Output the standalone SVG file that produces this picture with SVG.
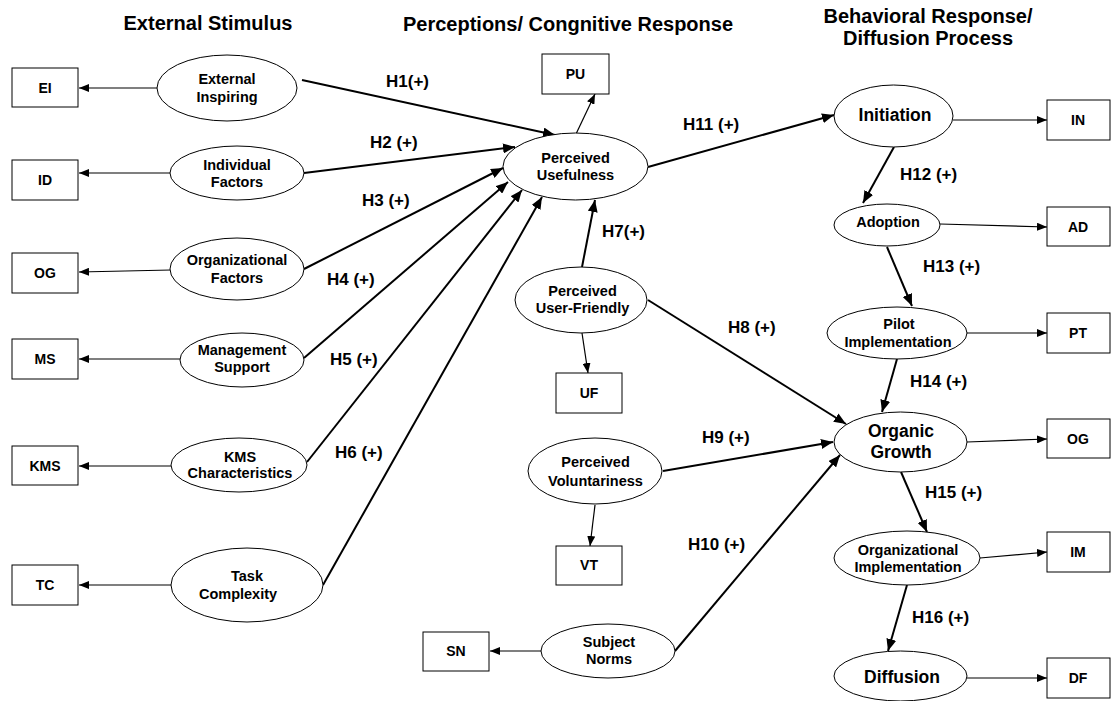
<svg xmlns="http://www.w3.org/2000/svg" width="1111" height="701" viewBox="0 0 1111 701">
<style>
text{font-family:"Liberation Sans",Arial,sans-serif;font-weight:bold;fill:#000}
.title{font-size:20px;text-anchor:middle}
.lbl{font-size:17px}
.et{font-size:14.5px;text-anchor:middle}
.eb{font-size:17.5px;text-anchor:middle}
.bt{font-size:14px;text-anchor:middle}
ellipse{fill:#fff;stroke:#000;stroke-width:1}
rect{fill:#fff;stroke:#000;stroke-width:1}
.thin{stroke:#000;stroke-width:1.2;fill:none;marker-end:url(#sa)}
.thick{stroke:#000;stroke-width:2;fill:none;marker-end:url(#ba)}
</style>
<defs>
<marker id="sa" markerUnits="userSpaceOnUse" markerWidth="10" markerHeight="8" viewBox="0 0 10 8" refX="10" refY="4" orient="auto"><path d="M0,0 L10,4 L0,8 z" fill="#000"/></marker>
<marker id="ba" markerUnits="userSpaceOnUse" markerWidth="12" markerHeight="10" viewBox="0 0 12 10" refX="12" refY="5" orient="auto"><path d="M0,0 L12,5 L0,10 z" fill="#000"/></marker>
</defs>
<rect x="0" y="0" width="1111" height="701" style="fill:#fff;stroke:none"/>

<g id="titles">
<text class="title" x="208" y="30">External Stimulus</text>
<text class="title" x="568" y="31">Perceptions/ Congnitive Response</text>
<text class="title" x="928" y="23">Behavioral Response/</text>
<text class="title" x="928" y="45">Diffusion Process</text>
</g>

<g id="connectors">
<line class="thin" x1="157" y1="88" x2="79" y2="88"/>
<line class="thin" x1="170" y1="173" x2="79" y2="173"/>
<line class="thin" x1="171" y1="270" x2="79" y2="272"/>
<line class="thin" x1="180" y1="359" x2="79" y2="359"/>
<line class="thin" x1="171" y1="466" x2="79" y2="466"/>
<line class="thin" x1="171" y1="585" x2="79" y2="585"/>
<line class="thin" x1="576" y1="134" x2="595" y2="94"/>
<line class="thin" x1="582" y1="333" x2="588" y2="373"/>
<line class="thin" x1="595" y1="505" x2="590" y2="546"/>
<line class="thin" x1="542" y1="651" x2="490" y2="651"/>
<line class="thin" x1="953" y1="120" x2="1047" y2="120"/>
<line class="thin" x1="940" y1="224" x2="1047" y2="227"/>
<line class="thin" x1="967" y1="333" x2="1047" y2="333"/>
<line class="thin" x1="967" y1="442" x2="1047" y2="439"/>
<line class="thin" x1="980" y1="558" x2="1047" y2="552"/>
<line class="thin" x1="967" y1="678" x2="1047" y2="678"/>

<line class="thick" x1="302" y1="80" x2="555" y2="135"/>
<line class="thick" x1="304" y1="173" x2="515" y2="147"/>
<line class="thick" x1="304" y1="269" x2="503" y2="168"/>
<line class="thick" x1="304" y1="358" x2="508" y2="182"/>
<line class="thick" x1="307" y1="462" x2="522" y2="190"/>
<line class="thick" x1="323" y1="585" x2="542" y2="197"/>
<line class="thick" x1="582" y1="267" x2="595" y2="200"/>
<line class="thick" x1="648" y1="300" x2="846" y2="424"/>
<line class="thick" x1="663" y1="471" x2="833" y2="442"/>
<line class="thick" x1="675" y1="651" x2="840" y2="455"/>
<line class="thick" x1="648" y1="167" x2="834" y2="115"/>
<line class="thick" x1="894" y1="147" x2="863" y2="203"/>
<line class="thick" x1="887" y1="247" x2="912" y2="306"/>
<line class="thick" x1="897" y1="359" x2="882" y2="412"/>
<line class="thick" x1="901" y1="472" x2="927" y2="532"/>
<line class="thick" x1="907" y1="585" x2="888" y2="651"/>

<text class="lbl" x="386" y="87">H1(+)</text>
<text class="lbl" x="370" y="148">H2 (+)</text>
<text class="lbl" x="362" y="206">H3 (+)</text>
<text class="lbl" x="327" y="285">H4 (+)</text>
<text class="lbl" x="330" y="365">H5 (+)</text>
<text class="lbl" x="335" y="458">H6 (+)</text>
<text class="lbl" x="602" y="237">H7(+)</text>
<text class="lbl" x="728" y="333">H8 (+)</text>
<text class="lbl" x="702" y="443">H9 (+)</text>
<text class="lbl" x="688" y="550">H10 (+)</text>
<text class="lbl" x="683" y="130">H11 (+)</text>
<text class="lbl" x="900" y="180">H12 (+)</text>
<text class="lbl" x="923" y="272">H13 (+)</text>
<text class="lbl" x="910" y="387">H14 (+)</text>
<text class="lbl" x="925" y="498">H15 (+)</text>
<text class="lbl" x="912" y="623">H16 (+)</text>
</g>

<g id="n-ei"><ellipse cx="227" cy="88" rx="70" ry="33"/><text class="et" x="227" y="84">External</text><text class="et" x="227" y="102">Inspiring</text></g>
<g id="n-if"><ellipse cx="237" cy="173" rx="67" ry="27"/><text class="et" x="237" y="170">Individual</text><text class="et" x="237" y="187">Factors</text></g>
<g id="n-of"><ellipse cx="237" cy="269" rx="67" ry="31"/><text class="et" x="237" y="265">Organizational</text><text class="et" x="237" y="283">Factors</text></g>
<g id="n-ms"><ellipse cx="242" cy="360" rx="62" ry="27"/><text class="et" x="242" y="355">Management</text><text class="et" x="242" y="372">Support</text></g>
<g id="n-kms"><ellipse cx="239" cy="465" rx="68" ry="27"/><text class="et" x="240" y="462">KMS</text><text class="et" x="240" y="478">Characteristics</text></g>
<g id="n-tc"><ellipse cx="247" cy="585" rx="76" ry="37"/><text class="et" x="247" y="581">Task</text><text class="et" x="238" y="599">Complexity</text></g>

<g id="b-ei"><rect x="12" y="68" width="66" height="39"/><text class="bt" x="45" y="93">EI</text></g>
<g id="b-id"><rect x="12" y="160" width="66" height="40"/><text class="bt" x="45" y="185">ID</text></g>
<g id="b-og"><rect x="12" y="253" width="66" height="40"/><text class="bt" x="45" y="278">OG</text></g>
<g id="b-ms"><rect x="12" y="339" width="66" height="40"/><text class="bt" x="45" y="364">MS</text></g>
<g id="b-kms"><rect x="12" y="446" width="66" height="39"/><text class="bt" x="45" y="471">KMS</text></g>
<g id="b-tc"><rect x="12" y="565" width="66" height="40"/><text class="bt" x="45" y="590">TC</text></g>

<g id="n-pu"><ellipse cx="575.5" cy="166.5" rx="72.5" ry="33.5"/><text class="et" x="575.5" y="163">Perceived</text><text class="et" x="575.5" y="180">Usefulness</text></g>
<g id="b-pu"><rect x="542" y="54" width="67" height="40"/><text class="bt" x="575.5" y="79">PU</text></g>
<g id="n-puf"><ellipse cx="581" cy="300" rx="66" ry="33"/><text class="et" x="582.5" y="296">Perceived</text><text class="et" x="582.5" y="313">User-Friendly</text></g>
<g id="b-uf"><rect x="556" y="373" width="66" height="40"/><text class="bt" x="589" y="398">UF</text></g>
<g id="n-pv"><ellipse cx="595" cy="471" rx="67" ry="33"/><text class="et" x="595.5" y="467">Perceived</text><text class="et" x="595.5" y="486">Voluntariness</text></g>
<g id="b-vt"><rect x="556" y="546" width="66" height="39"/><text class="bt" x="589" y="570">VT</text></g>
<g id="n-sn"><ellipse cx="608" cy="651" rx="67" ry="27"/><text class="et" x="609" y="647">Subject</text><text class="et" x="609" y="664">Norms</text></g>
<g id="b-sn"><rect x="423" y="632" width="66" height="39"/><text class="bt" x="456" y="656">SN</text></g>

<g id="n-init"><ellipse cx="893.5" cy="116" rx="59.5" ry="31"/><text class="eb" x="895" y="121">Initiation</text></g>
<g id="n-adopt"><ellipse cx="887" cy="225" rx="53" ry="21"/><text class="et" x="888" y="227">Adoption</text></g>
<g id="n-pilot"><ellipse cx="897" cy="333" rx="70" ry="26"/><text class="et" x="899" y="329">Pilot</text><text class="et" x="898" y="347">Implementation</text></g>
<g id="n-og"><ellipse cx="900.5" cy="442" rx="66.5" ry="30"/><text class="eb" x="901" y="437">Organic</text><text class="eb" x="901" y="458">Growth</text></g>
<g id="n-oi"><ellipse cx="907" cy="558" rx="73" ry="27"/><text class="et" x="908" y="555">Organizational</text><text class="et" x="908" y="572">Implementation</text></g>
<g id="n-diff"><ellipse cx="900.5" cy="676" rx="66.5" ry="25"/><text class="eb" x="902" y="683">Diffusion</text></g>

<g id="b-in"><rect x="1047" y="100" width="63" height="40"/><text class="bt" x="1078" y="125">IN</text></g>
<g id="b-ad"><rect x="1047" y="207" width="63" height="39"/><text class="bt" x="1078" y="232">AD</text></g>
<g id="b-pt"><rect x="1047" y="313" width="63" height="40"/><text class="bt" x="1078" y="338">PT</text></g>
<g id="b-og2"><rect x="1047" y="419" width="63" height="39"/><text class="bt" x="1078" y="444">OG</text></g>
<g id="b-im"><rect x="1047" y="532" width="63" height="40"/><text class="bt" x="1078" y="557">IM</text></g>
<g id="b-df"><rect x="1047" y="658" width="63" height="40"/><text class="bt" x="1078" y="683">DF</text></g>
</svg>
